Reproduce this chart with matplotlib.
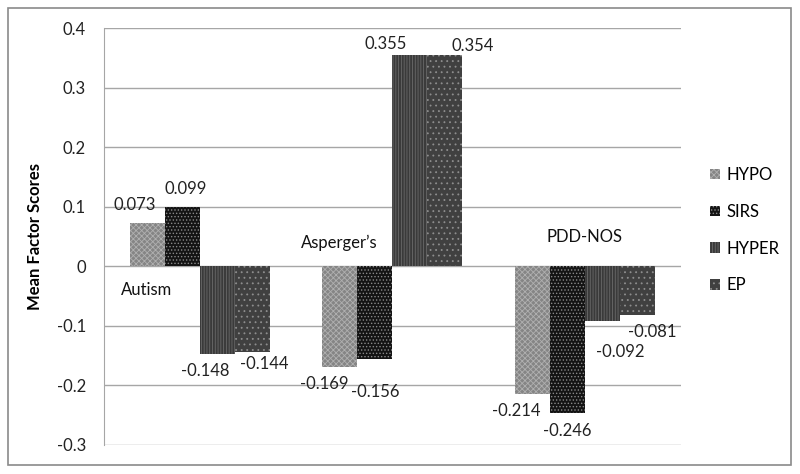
import numpy as np
import matplotlib.pyplot as plt
from matplotlib.patches import Rectangle

plt.rcParams['font.family'] = ['Lato', 'DejaVu Sans']
plt.rcParams['hatch.linewidth'] = 0.6

groups = ['Autism', "Asperger\u2019s", 'PDD-NOS']
series = ['HYPO', 'SIRS', 'HYPER', 'EP']
hypo = [0.073, -0.169, -0.214]
sirs = [0.099, -0.156, -0.246]
hyper = [-0.148, 0.355, -0.092]
ep = [-0.144, 0.354, -0.081]
yticks = [0.4, 0.3, 0.2, 0.1, 0, -0.1, -0.2, -0.3]

values = [hypo, sirs, hyper, ep]
faces = ['#858585', '#141414', '#3a3a3a', '#404040']
hatch_cols = ['#b0b0b0', '#8a8a8a', '#6a6a6a', '#8e8e8e']
hatches = ['xxxxxx', '.....', '||||||', '...']

# label nudges in pixels (dx, dy-down), per series per group, as in the source
label_dx = [[-13, -16, -16], [3, 0, 0], [-12, -24, 18], [12, 28, 15]]
label_dy = [[-18, 17, 17], [-18, 33, 18], [17, -11, 31], [12, -9, 17]]
cat_off = [(-54, 24), (-53, -23), (0, -29)]

fig = plt.figure(figsize=(8, 4.74), dpi=100)
ax = fig.add_axes([0.13, 0.0612, 0.721, 0.8797])

fig.patches.append(Rectangle((8 / 800, 1 - 465 / 474), 783 / 800, 457 / 474,
                             transform=fig.transFigure, fill=False,
                             edgecolor='#8a8a8a', linewidth=1.2))

xs = np.arange(len(groups)) + 0.5
width = 0.182
for i, name in enumerate(series):
    pos = xs + (i - 1.5) * width
    ax.bar(pos, values[i], width=width, color=faces[i], edgecolor=hatch_cols[i],
           hatch=hatches[i], linewidth=0, label=name, zorder=3)
    for j in range(len(groups)):
        v = values[i][j]
        ax.annotate('%.3f' % v, (pos[j], v),
                    xytext=(label_dx[i][j], -label_dy[i][j]),
                    textcoords='offset pixels', ha='center', va='center',
                    fontsize=12, color='#222222', zorder=5)

for j, g in enumerate(groups):
    ax.annotate(g, (xs[j], 0), xytext=(cat_off[j][0], -cat_off[j][1]),
                textcoords='offset pixels', ha='center', va='center',
                fontsize=12, color='#111111')

ax.set_xlim(0, 3)
ax.set_ylim(-0.3, 0.4)
ax.set_yticks(yticks)
ax.set_yticklabels(['0' if t == 0 else ('%.1f' % t) for t in yticks],
                   fontsize=12, color='#222222')
ax.tick_params(axis='y', length=0, pad=13)
ax.set_xticks([])
ax.grid(True, axis='y', color='#a6a6a6', linewidth=1.0, zorder=0)
for s in ['top', 'right', 'bottom']:
    ax.spines[s].set_visible(False)
ax.spines['left'].set_color('#a6a6a6')
ax.set_ylabel('Mean Factor Scores', fontsize=12, fontweight='bold', labelpad=10)

ax.legend(loc='center left', bbox_to_anchor=(1.025, 0.515), frameon=False,
          fontsize=12, handlelength=0.6, handleheight=0.6, handletextpad=0.4,
          labelspacing=1.25)

fig.savefig('out.png', dpi=100)
